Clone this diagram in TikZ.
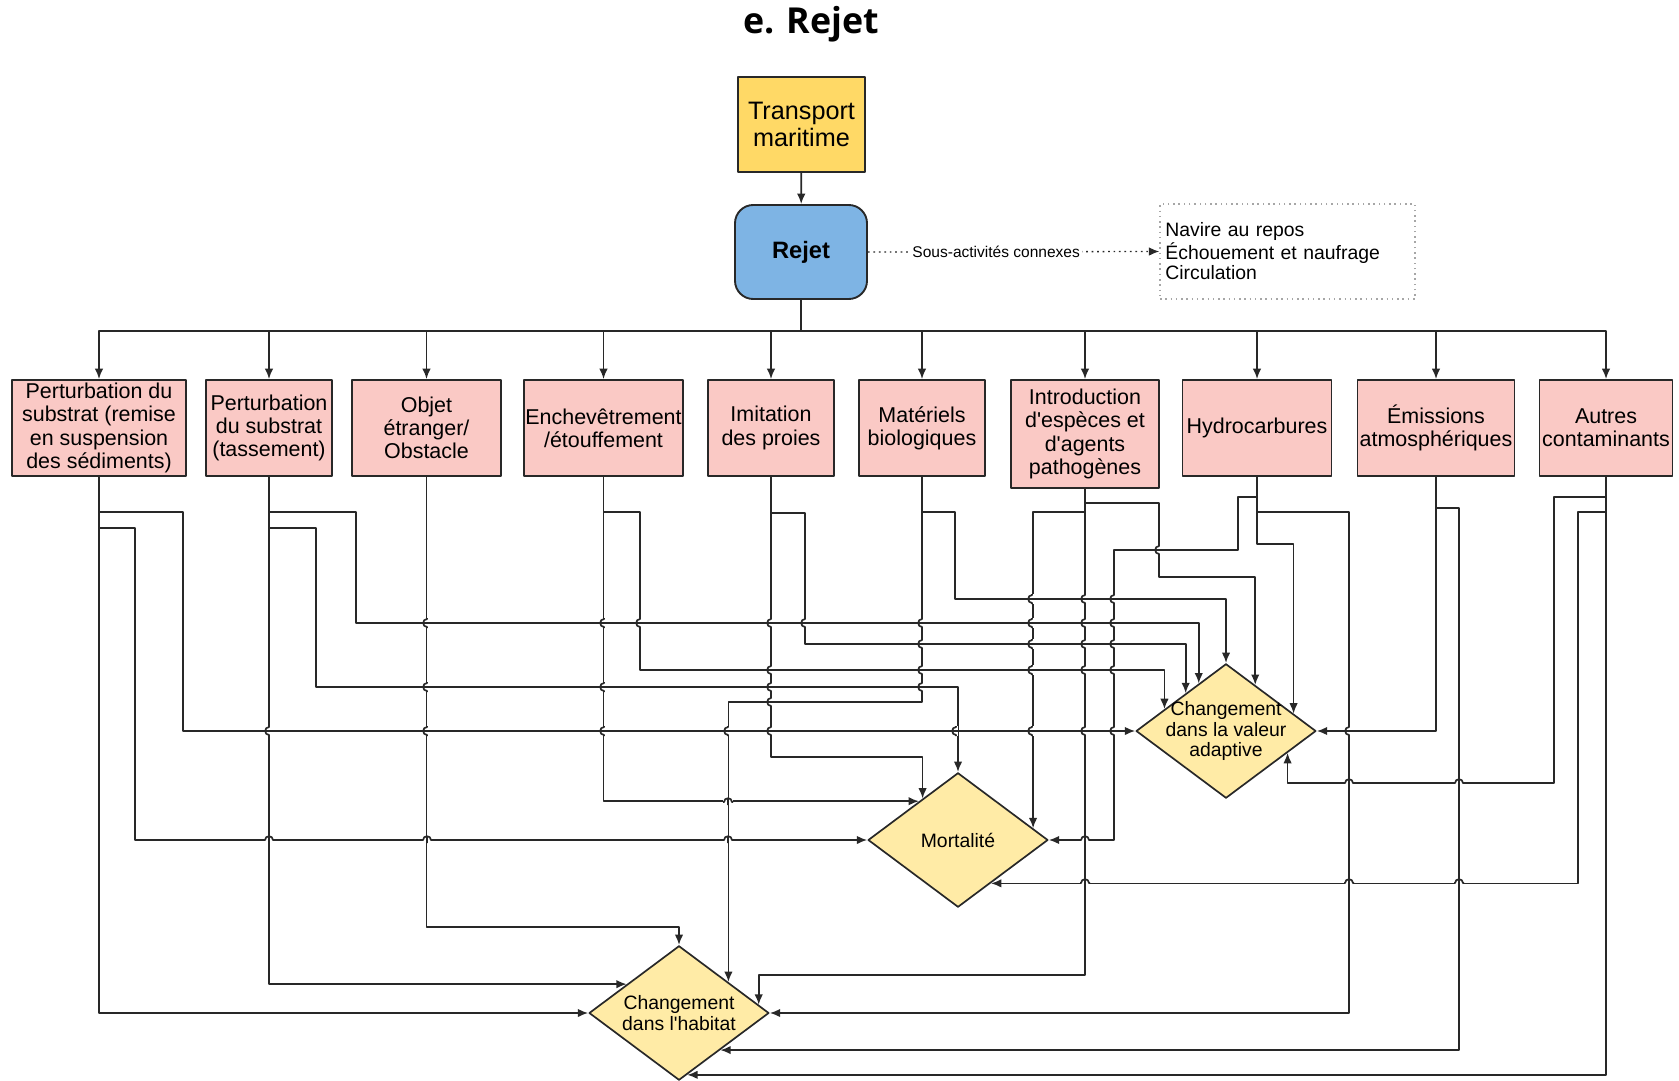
\documentclass[tikz,border=0pt]{standalone}
\usepackage{fontspec}
\setmainfont{Liberation Sans}[Ligatures=TeXOff]
\newfontfamily\titlefont{Open Sans}
\usetikzlibrary{arrows.meta,calc,shapes.geometric}
\definecolor{linec}{RGB}{40,40,40}
\definecolor{transc}{RGB}{255,217,102}
\definecolor{rejetc}{RGB}{126,180,228}
\definecolor{effc}{RGB}{250,201,197}
\definecolor{diamc}{RGB}{255,235,166}

\begin{document}
\begin{tikzpicture}[x=0.018678cm,y=-0.018678cm,line join=round,
  box/.style={draw=linec,line width=1pt,fill=effc,inner sep=0pt,align=center,minimum height=1.793cm,font=\fontsize{11.4}{12.3}\selectfont},
  diam/.style={diamond,draw=linec,line width=0.9pt,fill=diamc,inner sep=-6pt,aspect=1.34,minimum width=3.36cm,minimum height=2.51cm,align=center,font=\fontsize{10.3}{10.9}\selectfont},
  wire/.style={draw=linec,line width=0.9pt},
  arr/.style={wire,-{Latex[length=5.5pt,width=4.5pt]}}]
  \useasboundingbox (0,0) rectangle (1679,1080);
  \node[font=\titlefont\bfseries\fontsize{19}{22}\selectfont] (title) at (811,24) {e. Rejet};
  \node[draw=linec,line width=1pt,fill=transc,minimum width=2.372cm,minimum height=1.774cm,inner sep=0pt,align=center,font=\fontsize{13.4}{14.2}\selectfont] (trans) at (801.5,124.5) {Transport\\maritime};
  \node[draw=linec,line width=1pt,fill=rejetc,rounded corners=0.34cm,minimum width=2.465cm,minimum height=1.756cm,font=\bfseries\fontsize{12.6}{14}\selectfont] (rejet) at (801,252) {Rejet};
  \node[draw=gray!70,dotted,line width=0.8pt,text width=4.56cm,inner xsep=0.1cm,minimum height=1.774cm,align=left,font=\fontsize{10.3}{10.8}\selectfont] (sub) at (1287.5,251.5) {Navire au repos\\Échouement et naufrage\\Circulation};
  \draw[arr] (trans) -- (rejet);
  \draw[arr,dotted,line width=0.7pt] (rejet.east) -- node[pos=.44,fill=white,inner sep=1pt,font=\fontsize{8.25}{9}\selectfont] (subl) {Sous-activités connexes} (sub.west);

  \node[box,minimum width=3.25cm] (b1) at (99,428) {Perturbation du\\substrat (remise\\en suspension\\des sédiments)};
  \node[box,minimum width=2.353cm] (b2) at (269,428) {Perturbation\\du substrat\\(tassement)};
  \node[box,minimum width=2.783cm] (b3) at (426.5,428) {Objet\\étranger/\\Obstacle};
  \node[box,minimum width=2.97cm] (b4) at (603.5,428) {Enchevêtrement\\/étouffement};
  \node[box,minimum width=2.353cm] (b5) at (771,428) {Imitation\\des proies};
  \node[box,minimum width=2.353cm] (b6) at (922,428) {Matériels\\biologiques};
  \node[box,minimum width=2.764cm,minimum height=2.017cm] (b7) at (1085,434) {Introduction\\d'espèces et\\d'agents\\pathogènes};
  \node[box,minimum width=2.783cm] (b8) at (1257,428) {Hydrocarbures};
  \node[box,minimum width=2.932cm] (b9) at (1436,428) {Émissions\\atmosphériques};
  \node[box,minimum width=2.484cm] (b10) at (1606,428) {Autres\\contaminants};

  \draw[wire] (rejet.south) -- (rejet.south |- 0,331);
  \foreach \b in {b1,b2,b3,b4,b5,b6,b7,b8,b9,b10}
    \draw[arr] (rejet.south |- 0,331) -| (\b.north);

  \node[diam] (adapt) at (1226,731) {Changement\\dans la valeur\\adaptive};
  \node[diam] (mort) at (958,840) {Mortalité};
  \node[diam] (hab) at (679,1013) {Changement\\dans l'habitat};

  \coordinate (aB1) at ($(adapt.north)!.3!(adapt.west)$);
  \coordinate (aD1) at ($(adapt.north)!.444!(adapt.west)$);
  \coordinate (aC1) at ($(adapt.north)!.678!(adapt.west)$);
  \coordinate (aE7) at ($(adapt.north)!.322!(adapt.east)$);
  \coordinate (aE8) at ($(adapt.north)!.744!(adapt.east)$);
  \coordinate (aS10) at ($(adapt.south)!.678!(adapt.east)$);
  \coordinate (mN5) at ($(mort.north)!.39!(mort.west)$);
  \coordinate (mW4) at ($(mort.north)!.43!(mort.west)$);
  \coordinate (mE7) at ($(mort.north)!.827!(mort.east)$);
  \coordinate (mS10) at ($(mort.east)!.637!(mort.south)$);
  \coordinate (hW2) at ($(hab.north)!.576!(hab.west)$);
  \coordinate (hN6) at ($(hab.north)!.544!(hab.east)$);
  \coordinate (hN7) at ($(hab.north)!.878!(hab.east)$);
  \coordinate (hS9) at ($(hab.east)!.545!(hab.south)$);
  \coordinate (hS10) at ($(hab.east)!.909!(hab.south)$);

  % sediments / tassement / obstacle
  \draw[arr] (b1.south) |- (183,512) |- (adapt.west);
  \draw[arr] (b1.south) |- (135,528) |- (mort.west);
  \draw[arr] (b1.south) |- (hab.west);
  \draw[arr] (b2.south) |- (356,512) -- (356,623) -| (aB1);
  \draw[arr] (b2.south) |- (316,528) -- (316,687) -| (mort.north);
  \draw[arr] (b2.south) |- (hW2);
  \draw[arr] (b3.south) -- (b3.south |- 0,927) -| (hab.north);
  % etouffement / proies / biologiques
  \draw[arr] (b4.south) |- (640,512) -- (640,670) -| (aC1);
  \draw[arr] (b4.south) |- (mW4);
  \draw[arr] (b5.south) |- (805,513) -- (805,644) -| (aD1);
  \draw[arr] (b5.south) -- (b5.south |- 0,757) -| (mN5);
  \draw[arr] (b6.south) |- (955,512) -- (955,599) -| (adapt.north);
  \draw[arr] (b6.south) -- (b6.south |- 0,702) -| (hN6);
  % especes / hydrocarbures
  \draw[arr] (b7.south) |- (1159,503) -- (1159,577) -| (aE7);
  \draw[arr] (b7.south) -- (b7.south |- 0,512) -| (mE7);
  \draw[arr] (b7.south) -- (b7.south |- 0,975) -| (hN7);
  \draw[arr] (b8.south) |- (1238,497) -- (1238,550) -- (1114,550) |- (mort.east);
  \draw[arr] (b8.south) -- (b8.south |- 0,544) -| (aE8);
  \draw[arr] (b8.south) |- (1349,512) |- (hab.east);
  % emissions / contaminants
  \draw[arr] (b9.south) |- (adapt.east);
  \draw[arr] (b9.south) |- (1459,508) |- (hS9);
  \draw[arr] (b10.south) |- (1554,497) -- (1554,783) -| (aS10);
  \draw[arr] (b10.south) |- (1578,512) |- (mS10);
  \draw[arr] (b10.south) |- (hS10);

  % line jumps where wires cross
  \foreach \hy/\hxa/\hxb in {731/183/1136,840/135/868,1013/99/589,623/356/1199,687/316/956,985/269/628,927/427/679,670/640/1165,802/604/920,644/805/1186,757/771/923,599/955/1226,702/728/922,577/1159/1255,503/1085/1159,975/758/1085,550/1114/1238,840/1047/1114,544/1257/1293,1013/769/1349,731/1316/1436,1049/720/1459,783/1287/1554,883/993/1578,1073/687/1606}
    \foreach \vx/\vya/\vyb in {99/476/1013,183/512/731,135/528/840,269/476/985,356/512/623,316/528/687,427/476/927,604/476/802,640/512/670,771/476/757,805/513/644,922/476/702,955/512/599,728/702/984,1085/488/975,1159/503/577,1032/512/829,758/975/1006,1257/476/544,1238/497/550,1114/550/840,1349/512/1013,1293/544/714,1436/476/731,1459/508/1049,1606/476/1073,1554/497/783,1578/512/883,956/687/773,923/757/799,679/927/947}
    {
      \pgfmathtruncatemacro\jmp{(\vx>\hxa+3)*(\vx<\hxb-3)*(\hy>\vya+3)*(\hy<\vyb-3)}
      \ifnum\jmp=1
        \ifnum\hy<760
          \fill[white] (\vx-2,\hy-5) rectangle (\vx+2,\hy+5);
          \draw[wire] (\vx-3,\hy) -- (\vx+3,\hy) (\vx,\hy-5) -- (\vx,\hy-4) .. controls (\vx-5,\hy-4) and (\vx-5,\hy+4) .. (\vx,\hy+4) -- (\vx,\hy+5);
        \else
          \fill[white] (\vx-5,\hy-2) rectangle (\vx+5,\hy+2);
          \draw[wire] (\vx,\hy-3) -- (\vx,\hy+3) (\vx-5,\hy) -- (\vx-4,\hy) .. controls (\vx-4,\hy-5) and (\vx+4,\hy-5) .. (\vx+4,\hy) -- (\vx+5,\hy);
        \fi
      \fi
    }
\end{tikzpicture}
\end{document}
